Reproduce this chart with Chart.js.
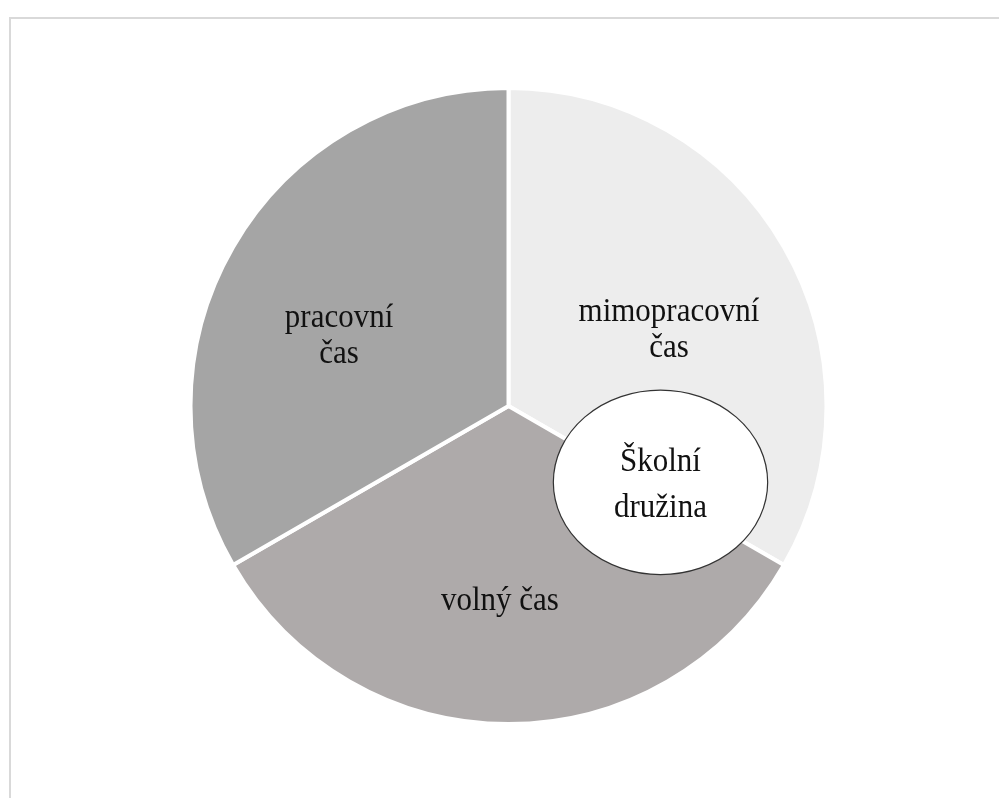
<!DOCTYPE html>
<html>
<head>
<meta charset="utf-8">
<script src="https://cdn.jsdelivr.net/npm/chart.js@4/dist/chart.umd.min.js"></script>
<style>
  html, body { margin: 0; padding: 0; background: #ffffff; overflow: hidden; }
  #wrap { position: relative; width: 999px; height: 798px; }
  #frame { position: absolute; left: 9px; top: 17px; width: 1200px; height: 1200px; border-left: 2px solid #d9d9d9; border-top: 2px solid #d9d9d9; box-sizing: border-box; }
  canvas { position: absolute; left: 0; top: 0; }
</style>
</head>
<body>
<div id="wrap">
  <div id="frame"></div>
  <canvas id="c" width="999" height="798"></canvas>
</div>
<script>
const categories = [["mimopracovní", "čas"], ["volný čas"], ["pracovní", "čas"]];
const values = [1, 1, 1];
const sliceColors = ["#ededed", "#aeaaaa", "#a5a5a5"];
const insetLabel = ["Školní", "družina"];

const FONT = '"Liberation Serif", "Times New Roman", serif';
const BW = 4;
const SY = 1.1; // slight vertical text stretch seen in the reference

function stretchedText(ctx, t, x, y) {
  ctx.save();
  ctx.translate(x, y);
  ctx.scale(1, SY);
  ctx.fillText(t, 0, 0);
  ctx.restore();
}

const labelsPlugin = {
  id: 'sliceLabels',
  afterDraw(chart) {
    const ctx = chart.ctx;
    const meta = chart.getDatasetMeta(0);
    const cfg = [
      { frac: 0.558, dAng: 0.082 },
      { frac: 0.614, dAng: 0.044 },
      { frac: 0.576, dAng: -0.134 }
    ];
    ctx.save();
    ctx.fillStyle = '#111111';
    ctx.font = '31px ' + FONT;
    ctx.textAlign = 'center';
    ctx.textBaseline = 'middle';
    meta.data.forEach((arc, i) => {
      const p = arc.getProps(['x', 'y', 'startAngle', 'endAngle', 'outerRadius'], true);
      const mid = (p.startAngle + p.endAngle) / 2 + cfg[i].dAng;
      const r = p.outerRadius * cfg[i].frac;
      const cx = p.x + Math.cos(mid) * r;
      const cy = p.y + Math.sin(mid) * r;
      const lines = categories[i];
      const lh = 36;
      lines.forEach((t, k) => {
        stretchedText(ctx, t, cx, cy + (k - (lines.length - 1) / 2) * lh);
      });
    });
    // inset ellipse "Školní družina"
    const a0 = meta.data[0].getProps(['x', 'y', 'outerRadius'], true);
    const R = a0.outerRadius;
    const ex = a0.x + R * 0.478;
    const ey = a0.y + R * 0.24;
    ctx.beginPath();
    ctx.ellipse(ex, ey, R * 0.337, R * 0.29, 0, 0, Math.PI * 2);
    ctx.fillStyle = '#ffffff';
    ctx.fill();
    ctx.lineWidth = 1.2;
    ctx.strokeStyle = '#333333';
    ctx.stroke();
    ctx.fillStyle = '#111111';
    insetLabel.forEach((t, k) => {
      stretchedText(ctx, t, ex, ey + 3 + (k - 0.5) * 46);
    });
    ctx.restore();
  }
};

new Chart(document.getElementById('c'), {
  type: 'pie',
  data: {
    labels: categories.map(l => l.join(' ')),
    datasets: [{
      data: values,
      backgroundColor: sliceColors,
      borderColor: '#ffffff',
      borderWidth: BW
    }]
  },
  options: {
    responsive: false,
    animation: false,
    rotation: 0,
    layout: { padding: { left: 192.5 - BW, right: 174.5 - BW, top: 90 - BW, bottom: 76 - BW } },
    plugins: { legend: { display: false }, tooltip: { enabled: false } }
  },
  plugins: [labelsPlugin]
});
</script>
</body>
</html>
